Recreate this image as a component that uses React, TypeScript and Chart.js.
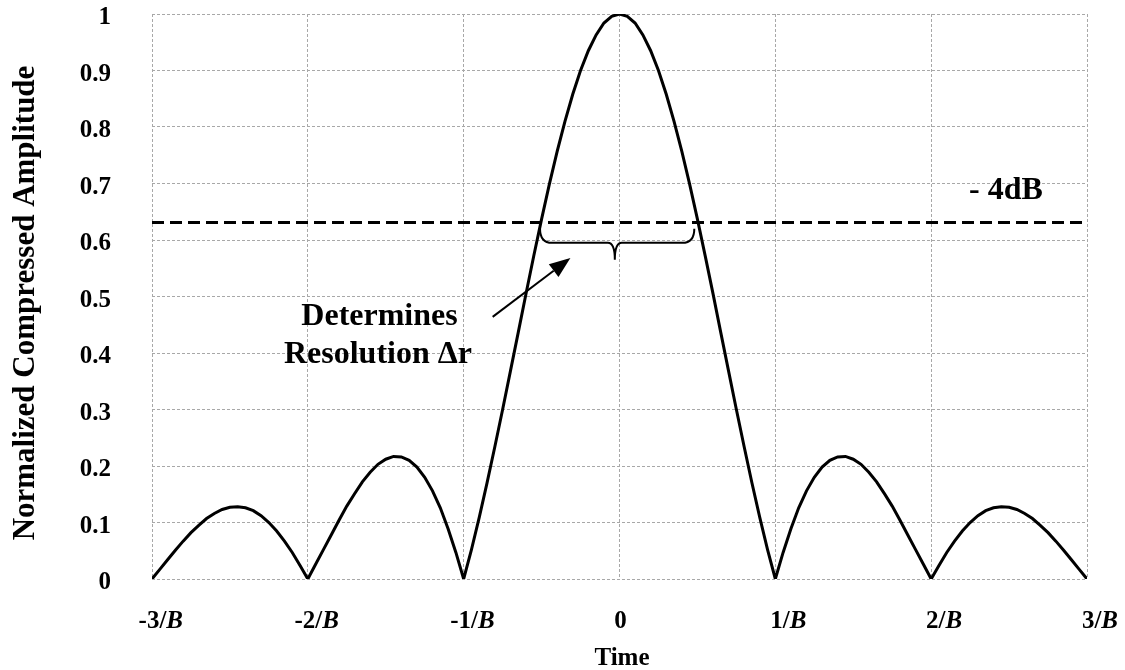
import { useEffect, useRef } from 'react';
import { Chart, registerables } from 'chart.js';

Chart.register(...registerables);

// Time axis, in units of 1/B
const timeValues = [
  -3.0, -2.95, -2.9, -2.85, -2.8, -2.75, -2.7, -2.65, -2.6, -2.55,
  -2.5, -2.45, -2.4, -2.35, -2.3, -2.25, -2.2, -2.15, -2.1, -2.05,
  -2.0, -1.95, -1.9, -1.85, -1.8, -1.75, -1.7, -1.65, -1.6, -1.55,
  -1.5, -1.45, -1.4, -1.35, -1.3, -1.25, -1.2, -1.15, -1.1, -1.05,
  -1.0, -0.95, -0.9, -0.85, -0.8, -0.75, -0.7, -0.65, -0.6, -0.55,
  -0.5, -0.45, -0.4, -0.35, -0.3, -0.25, -0.2, -0.15, -0.1, -0.05,
  0.0,
  0.05, 0.1, 0.15, 0.2, 0.25, 0.3, 0.35, 0.4, 0.45, 0.5,
  0.55, 0.6, 0.65, 0.7, 0.75, 0.8, 0.85, 0.9, 0.95, 1.0,
  1.05, 1.1, 1.15, 1.2, 1.25, 1.3, 1.35, 1.4, 1.45, 1.5,
  1.55, 1.6, 1.65, 1.7, 1.75, 1.8, 1.85, 1.9, 1.95, 2.0,
  2.05, 2.1, 2.15, 2.2, 2.25, 2.3, 2.35, 2.4, 2.45, 2.5,
  2.55, 2.6, 2.65, 2.7, 2.75, 2.8, 2.85, 2.9, 2.95, 3.0,
];

// Normalized compressed amplitude
const amplitude = [
  0.0, 0.017, 0.034, 0.051, 0.067, 0.082, 0.095, 0.107, 0.116, 0.123,
  0.127, 0.128, 0.126, 0.121, 0.112, 0.100, 0.085, 0.067, 0.047, 0.024,
  0.0, 0.026, 0.052, 0.078, 0.104, 0.129, 0.151, 0.172, 0.189, 0.203,
  0.212, 0.217, 0.216, 0.210, 0.198, 0.180, 0.156, 0.126, 0.089, 0.047,
  0.0, 0.052, 0.109, 0.170, 0.234, 0.300, 0.368, 0.436, 0.505, 0.572,
  0.637, 0.699, 0.757, 0.810, 0.858, 0.900, 0.935, 0.963, 0.984, 0.996,
  1.0,
  0.996, 0.984, 0.963, 0.935, 0.900, 0.858, 0.810, 0.757, 0.699, 0.637,
  0.572, 0.505, 0.436, 0.368, 0.300, 0.234, 0.170, 0.109, 0.052, 0.0,
  0.047, 0.089, 0.126, 0.156, 0.180, 0.198, 0.210, 0.216, 0.217, 0.212,
  0.203, 0.189, 0.172, 0.151, 0.129, 0.104, 0.078, 0.052, 0.026, 0.0,
  0.024, 0.047, 0.067, 0.085, 0.100, 0.112, 0.121, 0.126, 0.128, 0.127,
  0.123, 0.116, 0.107, 0.095, 0.082, 0.067, 0.051, 0.034, 0.017, 0.0,
];

// -4 dB threshold line
const thresholdX = [-3, 3];
const thresholdY = [0.631, 0.631];

// X tick labels: number part (bold) + italic part
const xTickValues = [-3, -2, -1, 0, 1, 2, 3];
const xTickNumbers = ['-3/', '-2/', '-1/', '0', '1/', '2/', '3/'];
const xTickItalic = ['B', 'B', 'B', '', 'B', 'B', 'B'];

const yTitle = 'Normalized Compressed Amplitude';
const xTitle = 'Time';
const thresholdLabel = '- 4dB';
const noteLines = ['Determines', 'Resolution \u0394r'];

const FONT = '"Liberation Serif", "Times New Roman", serif';

const annotationPlugin = {
  id: 'annotations',
  afterDraw(chart: any) {
    const { ctx } = chart;
    const xs = chart.scales.x;
    const ys = chart.scales.y;
    const px = (v: number) => xs.getPixelForValue(v);
    const py = (v: number) => ys.getPixelForValue(v);

    ctx.save();
    ctx.fillStyle = '#000';
    ctx.strokeStyle = '#000';

    // X tick labels
    ctx.textBaseline = 'alphabetic';
    ctx.textAlign = 'left';
    const baseY = 628;
    xTickValues.forEach((v, i) => {
      ctx.font = `bold 25px ${FONT}`;
      const w1 = ctx.measureText(xTickNumbers[i]).width;
      ctx.font = `italic bold 25px ${FONT}`;
      const w2 = ctx.measureText(xTickItalic[i]).width;
      const total = w1 + w2;
      const gx = px(v);
      const start = xTickItalic[i] ? gx + 31 - total : gx - total / 2 + 1;
      ctx.font = `bold 25px ${FONT}`;
      ctx.fillText(xTickNumbers[i], start, baseY);
      if (xTickItalic[i]) {
        ctx.font = `italic bold 25px ${FONT}`;
        ctx.fillText(xTickItalic[i], start + w1, baseY);
      }
    });

    // X title
    ctx.font = `bold 25px ${FONT}`;
    ctx.textAlign = 'center';
    ctx.fillText(xTitle, 622, 665);

    // Y title
    ctx.save();
    ctx.translate(34, 303);
    ctx.rotate(-Math.PI / 2);
    ctx.font = `bold 31px ${FONT}`;
    ctx.textAlign = 'center';
    ctx.textBaseline = 'alphabetic';
    ctx.fillText(yTitle, 0, 0);
    ctx.restore();

    // -4dB label
    ctx.font = `bold 32px ${FONT}`;
    ctx.textAlign = 'center';
    ctx.fillText(thresholdLabel, px(2.48), py(0.672));

    // Note text
    ctx.fillText(noteLines[0], px(-1.54), py(0.45));
    ctx.fillText(noteLines[1], px(-1.55), py(0.382));

    // Brace
    const xl = px(-0.51);
    const xr = px(0.48);
    const xc = px(-0.03);
    const yTop = py(0.62);
    const yBar = py(0.595);
    const yTip = py(0.565);
    const r = 12;
    const r2 = 7;
    ctx.lineWidth = 2;
    ctx.beginPath();
    ctx.moveTo(xl, yTop);
    ctx.quadraticCurveTo(xl, yBar, xl + r, yBar);
    ctx.lineTo(xc - r2, yBar);
    ctx.quadraticCurveTo(xc, yBar, xc, yTip);
    ctx.quadraticCurveTo(xc, yBar, xc + r2, yBar);
    ctx.lineTo(xr - r, yBar);
    ctx.quadraticCurveTo(xr, yBar, xr, yTop);
    ctx.stroke();

    // Arrow
    const ax0 = px(-0.814);
    const ay0 = py(0.464);
    const ax1 = px(-0.315);
    const ay1 = py(0.568);
    const ang = Math.atan2(ay1 - ay0, ax1 - ax0);
    const headLen = 21;
    const headHalf = 8;
    const bx = ax1 - headLen * Math.cos(ang);
    const by = ay1 - headLen * Math.sin(ang);
    ctx.lineWidth = 2;
    ctx.beginPath();
    ctx.moveTo(ax0, ay0);
    ctx.lineTo(bx, by);
    ctx.stroke();
    ctx.beginPath();
    ctx.moveTo(ax1, ay1);
    ctx.lineTo(bx + headHalf * Math.sin(ang), by - headHalf * Math.cos(ang));
    ctx.lineTo(bx - headHalf * Math.sin(ang), by + headHalf * Math.cos(ang));
    ctx.closePath();
    ctx.fill();

    ctx.restore();
  },
};

export default function App() {
  const canvasRef = useRef<HTMLCanvasElement | null>(null);

  useEffect(() => {
    document.body.style.margin = '0';
    const canvas = canvasRef.current;
    if (!canvas) return;

    const curve = timeValues.map((t, i) => ({ x: t, y: amplitude[i] }));
    const threshold = thresholdX.map((t, i) => ({ x: t, y: thresholdY[i] }));

    const chart = new Chart(canvas, {
      type: 'line',
      data: {
        datasets: [
          {
            label: '-4dB',
            data: threshold,
            borderColor: '#000',
            borderWidth: 3,
            borderDash: [12, 6],
            pointRadius: 0,
            tension: 0,
          },
          {
            label: 'Amplitude',
            data: curve,
            borderColor: '#000',
            borderWidth: 3,
            pointRadius: 0,
            tension: 0,
          },
        ],
      },
      options: {
        animation: false,
        responsive: false,
        maintainAspectRatio: false,
        layout: { padding: { top: 14, right: 38, bottom: 0, left: 0 } },
        plugins: {
          legend: { display: false },
          tooltip: { enabled: false },
        },
        scales: {
          x: {
            type: 'linear',
            min: -3,
            max: 3,
            ticks: { stepSize: 1, display: false },
            grid: { color: '#a8a8a8', lineWidth: 1, drawTicks: false },
            border: { display: false, dash: [3, 2] },
            afterFit: (scale: any) => {
              scale.height = 91;
              scale.paddingLeft = 0;
              scale.paddingRight = 0;
            },
          },
          y: {
            type: 'linear',
            min: 0,
            max: 1,
            ticks: {
              stepSize: 0.1,
              padding: 41,
              labelOffset: 4,
              color: '#000',
              font: { family: FONT, size: 25, weight: 'bold', lineHeight: 1 },
              callback: (v: any) => String(Math.round(Number(v) * 10) / 10),
            },
            grid: { color: '#a8a8a8', lineWidth: 1, drawTicks: false },
            border: { display: false, dash: [3, 2] },
            afterFit: (scale: any) => {
              scale.width = 152;
              scale.paddingTop = 0;
              scale.paddingBottom = 0;
            },
          },
        },
      },
      plugins: [annotationPlugin],
    });

    return () => chart.destroy();
  }, []);

  return (
    <div style={{ width: 1125, height: 670 }}>
      <canvas ref={canvasRef} width={1125} height={670} style={{ display: 'block' }} />
    </div>
  );
}
